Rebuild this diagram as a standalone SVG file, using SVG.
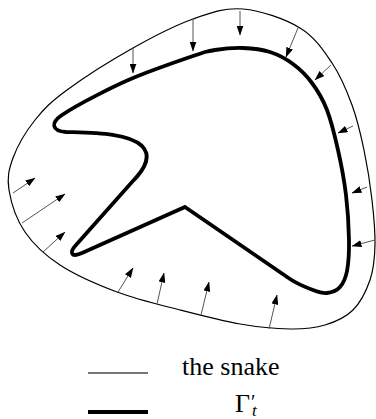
<svg xmlns="http://www.w3.org/2000/svg" width="376" height="419" viewBox="0 0 376 419">
<style>
.outer{fill:none;stroke:#000;stroke-width:1.2}
.inner{fill:none;stroke:#000;stroke-width:3.8;stroke-linejoin:miter;stroke-miterlimit:10}
.arr{stroke:#555;stroke-width:1;marker-end:url(#ah)}
.lbl{font-family:"Liberation Serif","Times New Roman",serif;font-size:26px;fill:#000}
</style>
<defs>
<marker id="ah" markerUnits="userSpaceOnUse" markerWidth="10" markerHeight="7" refX="9.5" refY="3.5" orient="auto">
<path d="M0,0 L10,3.5 L0,7 Z" fill="#000"/>
</marker>
</defs>
<g id="snake">
<path class="outer" d="M243,9 C260.8,10.5 285.2,19 300,28 C314.8,37 323.3,50.2 332,63 C340.7,75.8 346.7,90.5 352,105 C357.3,119.5 360.7,134.2 364,150 C367.3,165.8 370.2,184.2 372,200 C373.8,215.8 375.3,231.7 375,245 C374.7,258.3 373.7,269.2 370,280 C366.3,290.8 360.5,302.5 353,310 C345.5,317.5 335.5,321.8 325,325 C314.5,328.2 304.2,329.2 290,329 C275.8,328.8 258.3,327.2 240,324 C221.7,320.8 200.5,315.3 180,310 C159.5,304.7 137,299.5 117,292 C97,284.5 75.3,275 60,265 C44.7,255 33.5,244.5 25,232 C16.5,219.5 11,202.3 9,190 C7,177.7 8.7,169.7 13,158 C17.3,146.3 26,131.3 35,120 C44,108.7 50.7,102 67,90 C83.3,78 112,59.8 133,48 C154,36.2 174.7,25.5 193,19 C211.3,12.5 225.2,7.5 243,9 Z"/>
</g>
<g id="gamma">
<path class="inner" d="M185,207 L290,279 C296.6,283.5 306.8,287.7 313,290 C319.2,292.3 322.5,293.5 327,293 C331.5,292.5 336.7,290.7 340,287 C343.3,283.3 345.5,278.8 347,271 C348.5,263.2 349.2,252.7 349,240 C348.8,227.3 347.8,210 346,195 C344.2,180 341.2,164.2 338,150 C334.8,135.8 331.3,121.2 327,110 C322.7,98.8 317.7,90.7 312,83 C306.3,75.3 300,69.2 293,64 C286,58.8 278.3,54.7 270,52 C261.7,49.3 252.2,48.3 243,48 C233.8,47.7 223.3,48.7 215,50 C206.7,51.3 206.7,51.3 193,56 C179.3,60.7 150.2,70.8 133,78 C115.8,85.2 78,104 62,115 C50,123 52,131 66,132 C95,133 128,133 142,146 C152,156 144,170 132,182 L76,245 C69,252.5 71,258 82,253 Z"/>
</g>
<g id="connectors">
<line class="arr" x1="133" y1="48" x2="133" y2="73"/>
<line class="arr" x1="193" y1="19" x2="193" y2="51"/>
<line class="arr" x1="240" y1="11" x2="240" y2="35"/>
<line class="arr" x1="298" y1="28" x2="286" y2="57"/>
<line class="arr" x1="331" y1="65" x2="315" y2="80"/>
<line class="arr" x1="353" y1="126" x2="338" y2="133"/>
<line class="arr" x1="367" y1="187" x2="352" y2="193"/>
<line class="arr" x1="375" y1="240" x2="352" y2="246"/>
<line class="arr" x1="13" y1="193" x2="35" y2="178"/>
<line class="arr" x1="22" y1="223" x2="65" y2="194"/>
<line class="arr" x1="43" y1="252" x2="65" y2="232"/>
<line class="arr" x1="118" y1="292" x2="133" y2="268"/>
<line class="arr" x1="157" y1="304" x2="164" y2="273"/>
<line class="arr" x1="201" y1="315" x2="209" y2="282"/>
<line class="arr" x1="269" y1="329" x2="277" y2="295"/>
</g>
<g id="legend">
<line x1="88" y1="373" x2="148" y2="373" stroke="#777" stroke-width="1.8"/>
<text class="lbl" x="182" y="375">the snake</text>
<line x1="88" y1="412" x2="148" y2="412" stroke="#000" stroke-width="4"/>
<text class="lbl" x="235" y="412">Γ<tspan x="251" y="409" style="font-size:20px">′</tspan><tspan x="252" y="416" style="font-size:17px;font-style:italic">t</tspan></text>
</g>
</svg>
